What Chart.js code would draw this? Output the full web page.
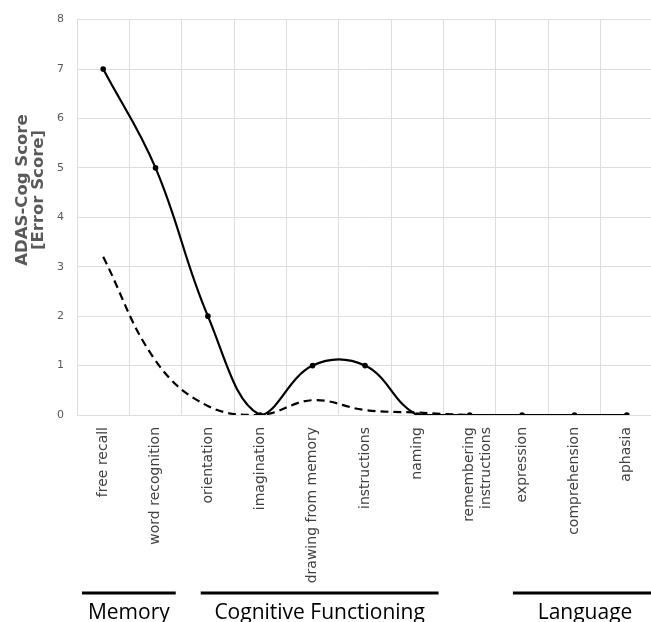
<!DOCTYPE html>
<html>
<head>
<meta charset="utf-8">
<script src="https://cdn.jsdelivr.net/npm/chart.js@4"></script>
<style>
html,body{margin:0;padding:0;background:#fff;}
#wrap{width:651px;height:622px;overflow:hidden;position:relative;}
#box{width:657px;height:622px;position:absolute;left:0;top:0;}
</style>
</head>
<body>
<div id="wrap"><div id="box"><canvas id="c"></canvas></div></div>
<script>
const categories = ["free recall","word recognition","orientation","imagination","drawing from memory","instructions","naming",["remembering","instructions"],"expression","comprehension","aphasia"];
const solidSeries = [7, 5, 2, 0, 1, 1, 0, 0, 0, 0, 0];
const dashedSeries = [3.2, 1.1, 0.18, 0, 0.3, 0.1, 0.05, 0, 0, 0, 0];
const yTicks = [0,1,2,3,4,5,6,7,8];
const yTitle = ["ADAS-Cog Score","[Error Score]"];
const groups = [
  {name:"Memory", from:0, to:1},
  {name:"Cognitive Functioning", from:2, to:6},
  {name:"Language", from:8, to:10}
];

const overlay = {
  id:'overlay',
  afterDraw(chart){
    const ctx = chart.ctx;
    const x = chart.scales.x;
    // y-axis title
    ctx.save();
    ctx.fillStyle = '#595959';
    ctx.font = 'bold 16.5px "DejaVu Sans"';
    ctx.textAlign = 'center';
    ctx.textBaseline = 'middle';
    ctx.translate(31, 190);
    ctx.rotate(-Math.PI/2);
    ctx.fillText(yTitle[0], 0, -8);
    ctx.fillText(yTitle[1], 0, 8);
    ctx.restore();
    // group brackets
    ctx.save();
    const step = x.getPixelForValue(1) - x.getPixelForValue(0);
    const insets = [[5,6],[19,5],[17,-10]];
    groups.forEach((g,i)=>{
      const a = x.getPixelForValue(g.from) - step/2 + insets[i][0];
      const b = x.getPixelForValue(g.to) + step/2 - insets[i][1];
      ctx.fillStyle = '#000';
      ctx.fillRect(a, 591.5, b-a, 3);
      ctx.font = '21px "Open Sans"';
      ctx.textAlign = 'center';
      ctx.textBaseline = 'alphabetic';
      const cx = i===2 ? 585 : (a+b)/2;
      ctx.fillText(g.name, cx, 619);
    });
    ctx.restore();
  }
};

new Chart(document.getElementById('c'), {
  type:'line',
  data:{
    labels:categories,
    datasets:[
      {data:solidSeries, borderColor:'#000', backgroundColor:'#000', borderWidth:2.2, tension:0.4,
       pointRadius:2.8, pointBackgroundColor:'#000', pointBorderWidth:0, fill:false},
      {data:dashedSeries, borderColor:'#000', borderWidth:2.2, borderDash:[8,5], tension:0.4,
       pointRadius:0, fill:false}
    ]
  },
  options:{
    responsive:true, maintainAspectRatio:false, animation:false,
    layout:{padding:{top:16,left:0,right:3,bottom:0}},
    plugins:{legend:{display:false}, tooltip:{enabled:false}},
    scales:{
      x:{
        offset:true,
        grid:{offset:true, color:'#dedede', lineWidth:1, drawTicks:false},
        border:{color:'#dedede'},
        ticks:{maxRotation:90, minRotation:90, autoSkip:false, padding:12,
               color:'#404040', font:{family:'"DejaVu Sans"', size:14}},
        afterFit(s){ s.height = 207; }
      },
      y:{
        min:0, max:8,
        grid:{color:'#dedede', lineWidth:1, drawTicks:false},
        border:{color:'#dedede'},
        afterBuildTicks(s){ s.ticks = yTicks.map(v=>({value:v})); },
        ticks:{padding:13, color:'#595959', font:{family:'"DejaVu Sans"', size:11}},
        afterFit(s){ s.width = 77; }
      }
    }
  },
  plugins:[overlay]
});
</script>
</body>
</html>
